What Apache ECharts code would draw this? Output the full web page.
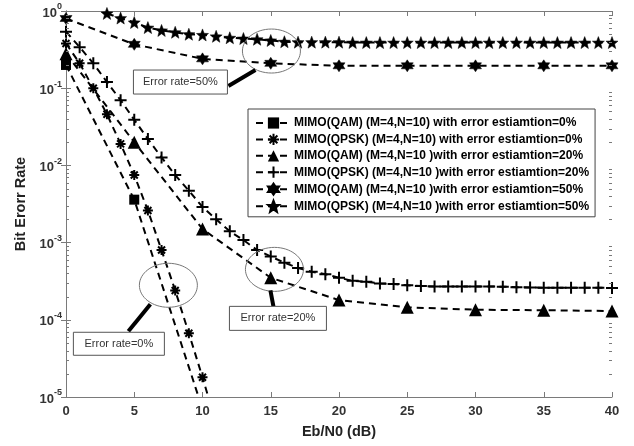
<!DOCTYPE html>
<html>
<head>
<meta charset="utf-8">
<script src="https://cdn.jsdelivr.net/npm/echarts@6/dist/echarts.min.js"></script>
<style>
  html, body { margin: 0; padding: 0; background: #fff; }
  #chart { width: 634px; height: 446px; }
</style>
</head>
<body>
<div id="chart"></div>
<script>
// Eb/N0 points (dB)
const snrStep5 = [0, 5, 10, 15, 20, 25, 30, 35, 40];
const snrQpsk0 = [0, 1, 2, 3, 4, 5, 6, 7, 8, 9, 10, 11];
const snrQpsk20 = [0, 1, 2, 3, 4, 5, 6, 7, 8, 9, 10, 11, 12, 13, 14, 15, 16, 17, 18, 19, 20,
  21, 22, 23, 24, 25, 26, 27, 28, 29, 30, 31, 32, 33, 34, 35, 36, 37, 38, 39, 40];
const snrQpsk50 = [3, 4, 5, 6, 7, 8, 9, 10, 11, 12, 13, 14, 15, 16, 17, 18, 19, 20,
  21, 22, 23, 24, 25, 26, 27, 28, 29, 30, 31, 32, 33, 34, 35, 36, 37, 38, 39, 40];
const snrQam0 = [0, 5, 10];

// BER values
const berQam0 = [0.2, 0.0036, 7e-6];
const berQpsk0 = [0.38, 0.21, 0.1, 0.046, 0.019, 0.0075, 0.0026, 0.0008, 0.00024, 6.7e-5, 1.8e-5, 4.5e-6];
const berQam20 = [0.28, 0.02, 0.0015, 0.00035, 0.00018, 0.000145, 0.000135, 0.000133, 0.00013];
const berQpsk20 = [0.54, 0.34, 0.21, 0.12, 0.07, 0.039, 0.022, 0.0127, 0.0075, 0.0047, 0.0029,
  0.002, 0.0014, 0.00108, 0.0008, 0.00066, 0.00055, 0.00047, 0.00042, 0.00039, 0.00035,
  0.00032, 0.00031, 0.000296, 0.00029, 0.00028, 0.000275, 0.00027, 0.00027, 0.00027, 0.00027,
  0.00027, 0.000268, 0.000265, 0.000263, 0.00026, 0.00026, 0.00026, 0.00026, 0.00026, 0.000258];
const berQam50 = [0.8, 0.37, 0.24, 0.21, 0.195, 0.195, 0.195, 0.195, 0.195];
const berQpsk50 = [0.93, 0.81, 0.71, 0.61, 0.56, 0.53, 0.5, 0.49, 0.47, 0.45, 0.44, 0.43, 0.415, 0.4,
  0.395, 0.395, 0.395, 0.395, 0.39, 0.39, 0.39, 0.39, 0.39, 0.39, 0.39, 0.39, 0.39, 0.39,
  0.39, 0.39, 0.39, 0.39, 0.39, 0.39, 0.39, 0.39, 0.39, 0.39];

const seriesNames = [
  'MIMO(QAM) (M=4,N=10) with error estiamtion=0%',
  'MIMO(QPSK) (M=4,N=10) with error estiamtion=0%',
  'MIMO(QAM) (M=4,N=10 )with error estiamtion=20%',
  'MIMO(QPSK) (M=4,N=10 )with error estiamtion=20%',
  'MIMO(QAM) (M=4,N=10 )with error estiamtion=50%',
  'MIMO(QPSK) (M=4,N=10 )with error estiamtion=50%'
];

// log minor ticks inside each decade
const decades = [-5, -4, -3, -2, -1];
const minorSteps = [2, 3, 4, 5, 6, 7, 8, 9];

// callouts: anchor in data coords, everything else pixel offsets from anchor
const callouts = [
  { at: [15.05, 0.303], text: 'Error rate=50%', box: [-138, 19, 94, 24], line: [[-43, 35], [-16, 19]] },
  { at: [7.5, 0.00028], text: 'Error rate=0%', box: [-95, 47, 91, 23], line: [[-40, 46], [-18, 19]] },
  { at: [15.27, 0.00045], text: 'Error rate=20%', box: [-45, 37, 97, 24], line: [[-4, 21], [-1, 37]] }
];

const FONT = 'Liberation Sans, Arial, sans-serif';

const pentagram = 'path://M5,0L6.3,3.3L9.76,3.45L7.05,5.65L7.94,9.05L5,7.1L2.06,9.05L2.95,5.65L0.24,3.45L3.7,3.3Z';
const hexagram = 'path://M5,0L6.44,2.5L9.33,2.5L7.89,5L9.33,7.5L6.44,7.5L5,10L3.56,7.5L0.67,7.5L2.11,5L0.67,2.5L3.56,2.5Z';
const plus = 'path://M5,0L5,10M0,5L10,5';
const asterisk = 'path://M5,0L5,10M0,5L10,5M1.5,1.5L8.5,8.5M8.5,1.5L1.5,8.5';

const zip = (xs, ys) => ys.map((y, i) => [xs[i], y]);

function mkSeries(name, data, symbol, size, border) {
  return {
    name: name,
    type: 'line',
    data: data,
    symbol: symbol,
    symbolSize: size,
    showAllSymbol: true,
    clip: true,
    animation: false,
    lineStyle: { color: '#000', width: 2, type: [7, 5] },
    itemStyle: { color: '#000', borderColor: '#000', borderWidth: border },
    emphasis: { disabled: true }
  };
}

const chart = echarts.init(document.getElementById('chart'), null, { renderer: 'canvas' });

const axisGray = '#7a7a7a';
const labelColor = '#333';

const option = {
  backgroundColor: '#fff',
  animation: false,
  textStyle: { fontFamily: FONT },
  grid: { left: 66, right: 22, top: 11, bottom: 49 },
  legend: {
    orient: 'vertical',
    left: 248,
    top: 109,
    padding: [8, 6, 4, 7],
    itemWidth: 35,
    itemHeight: 14,
    itemGap: 3.8,
    backgroundColor: '#fff',
    borderColor: '#444',
    borderWidth: 1,
    borderRadius: 0,
    textStyle: { color: '#000', fontSize: 12, fontWeight: 'bold', fontFamily: FONT, padding: [0, 0, 0, -2] },
    data: seriesNames
  },
  xAxis: [{
    type: 'value',
    min: 0, max: 40, interval: 5,
    name: 'Eb/N0 (dB)',
    nameLocation: 'middle',
    nameGap: 27,
    nameTextStyle: { color: '#222', fontSize: 14.5, fontWeight: 'bold', fontFamily: FONT },
    axisLine: { lineStyle: { color: axisGray } },
    axisTick: { inside: true, length: 5, lineStyle: { color: axisGray } },
    axisLabel: { color: labelColor, fontSize: 13, fontWeight: 'bold', margin: 8 },
    splitLine: { show: false }
  }, {
    type: 'value',
    position: 'top',
    min: 0, max: 40, interval: 5,
    axisLine: { show: true, lineStyle: { color: axisGray } },
    axisTick: { inside: true, length: 5, lineStyle: { color: axisGray } },
    axisLabel: { show: false },
    splitLine: { show: false }
  }],
  yAxis: [{
    type: 'log',
    logBase: 10,
    min: 1e-5, max: 1,
    name: 'Bit Erorr Rate',
    nameLocation: 'middle',
    nameGap: 37,
    nameTextStyle: { color: '#222', fontSize: 14.5, fontWeight: 'bold', fontFamily: FONT },
    axisLine: { show: true, lineStyle: { color: axisGray } },
    axisTick: { inside: true, length: 5, lineStyle: { color: axisGray } },
    axisLabel: {
      margin: 4,
      formatter: function (v) {
        const e = Math.round(Math.log10(v));
        return '{b|10}{s|' + e + '}';
      },
      rich: {
        b: { color: labelColor, fontSize: 13, fontWeight: 'bold', fontFamily: FONT, verticalAlign: 'bottom', lineHeight: 17 },
        s: { color: labelColor, fontSize: 9, fontWeight: 'bold', fontFamily: FONT, verticalAlign: 'top', lineHeight: 10 }
      }
    },
    splitLine: { show: false }
  }, {
    type: 'log',
    logBase: 10,
    position: 'right',
    min: 1e-5, max: 1,
    axisLine: { show: true, lineStyle: { color: axisGray } },
    axisTick: { inside: true, length: 5, lineStyle: { color: axisGray } },
    axisLabel: { show: false },
    splitLine: { show: false }
  }],
  series: [
    mkSeries(seriesNames[0], zip(snrQam0, berQam0), 'rect', 10, 0),
    mkSeries(seriesNames[1], zip(snrQpsk0, berQpsk0), asterisk, 10, 2),
    mkSeries(seriesNames[2], zip(snrStep5, berQam20), 'triangle', 13, 0),
    mkSeries(seriesNames[3], zip(snrQpsk20, berQpsk20), plus, 12, 2),
    mkSeries(seriesNames[4], zip(snrStep5, berQam50), hexagram, 12, 0.5),
    mkSeries(seriesNames[5], zip(snrQpsk50, berQpsk50), pentagram, 12, 0.5)
  ]
};

chart.setOption(option);

const elements = [];

// minor ticks at 2..9 x 10^e on left and right frame
const xLeft = chart.convertToPixel({ xAxisIndex: 0 }, 0);
const xRight = chart.convertToPixel({ xAxisIndex: 0 }, 40);
decades.forEach(function (e) {
  minorSteps.forEach(function (k) {
    const y = Math.round(chart.convertToPixel({ yAxisIndex: 0 }, k * Math.pow(10, e))) + 0.5;
    elements.push({ type: 'line', silent: true, z: 5,
      shape: { x1: xLeft, y1: y, x2: xLeft + 3, y2: y }, style: { stroke: axisGray, lineWidth: 1 } });
    elements.push({ type: 'line', silent: true, z: 5,
      shape: { x1: xRight - 3, y1: y, x2: xRight, y2: y }, style: { stroke: axisGray, lineWidth: 1 } });
  });
});

// callout ellipses, boxes and pointers, placed from data coordinates
callouts.forEach(function (c) {
  const p = chart.convertToPixel({ xAxisIndex: 0, yAxisIndex: 0 }, c.at);
  elements.push({
    type: 'ellipse', silent: true, z: 20,
    shape: { cx: p[0], cy: p[1], rx: 29, ry: 22 },
    style: { fill: null, stroke: '#777', lineWidth: 1 }
  });
  elements.push({
    type: 'line', silent: true, z: 20,
    shape: { x1: p[0] + c.line[0][0], y1: p[1] + c.line[0][1], x2: p[0] + c.line[1][0], y2: p[1] + c.line[1][1] },
    style: { stroke: '#000', lineWidth: 4 }
  });
  elements.push({
    type: 'rect', silent: true, z: 21,
    shape: { x: p[0] + c.box[0], y: p[1] + c.box[1], width: c.box[2], height: c.box[3] },
    style: { fill: '#fff', stroke: '#555', lineWidth: 1 }
  });
  elements.push({
    type: 'text', silent: true, z: 22,
    x: p[0] + c.box[0] + c.box[2] / 2, y: p[1] + c.box[1] + c.box[3] / 2,
    style: { text: c.text, fill: '#333', font: '11px ' + FONT, align: 'center', verticalAlign: 'middle' }
  });
});
chart.setOption({ graphic: elements });
</script>
</body>
</html>
